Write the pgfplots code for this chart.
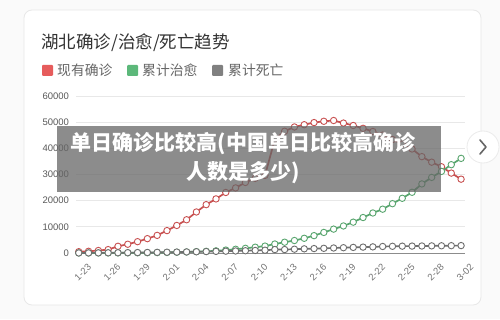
\documentclass[border=0pt]{standalone}
\usepackage{pgfplots}
\pgfplotsset{compat=1.18}
\usepackage{pgfplotstable}
\usepackage{fontspec}
\setmainfont{Liberation Sans}
\newfontfamily\cjk{Noto Sans CJK SC}
\definecolor{cred}{RGB}{200,80,80}
\definecolor{lred}{RGB}{230,92,92}
\definecolor{cgreen}{RGB}{88,165,110}
\definecolor{lgreen}{RGB}{92,184,122}
\definecolor{cgray}{RGB}{110,110,110}
\definecolor{lgray}{RGB}{128,128,128}
\pgfplotstableread{
x cur cured dead
0 494 31 24
1 658 32 39
2 958 42 52
3 1303 44 76
4 2567 47 100
5 3349 80 125
6 4334 90 162
7 5486 116 204
8 6738 166 249
9 8565 215 294
10 10532 295 350
11 12712 396 414
12 15679 520 479
13 18483 633 549
14 20677 817 618
15 23139 1115 699
16 24881 1439 780
17 26965 1795 871
18 28532 2222 974
19 29659 2639 1068
20 43455 3441 1310
21 46537 4131 1318
22 48175 4774 1457
23 49030 5623 1596
24 49847 6639 1696
25 50338 7862 1789
26 50633 9128 1921
27 49665 10337 2029
28 48730 11788 2144
29 47647 13557 2250
30 46439 15299 2346
31 45044 16748 2495
32 43369 18854 2563
33 41660 20912 2615
34 39755 23200 2641
35 36829 26403 2682
36 34715 28895 2727
37 32959 31187 2761
38 30543 33757 2803
39 28216 36167 2834
}\data
\begin{document}
\begin{tikzpicture}[x=1pt,y=1pt]
\path[use as bounding box, fill=black!2] (0,0) rectangle (500,319);
\draw[draw=black!9, fill=white, rounded corners=8pt, line width=0.8pt] (24,14) rectangle (481,309);
\node[anchor=west, inner sep=0, font=\cjk\fontsize{17.5}{20}\selectfont, text=black!80] at (41,276) {湖北确诊/治愈/死亡趋势};
\fill[lred, rounded corners=1pt] (42,243) rectangle (53,254);
\node[anchor=west, inner sep=0, font=\cjk\fontsize{13.8}{16}\selectfont, text=black!60] at (57,248.5) {现有确诊};
\fill[lgreen, rounded corners=1pt] (127,243) rectangle (138,254);
\node[anchor=west, inner sep=0, font=\cjk\fontsize{13.8}{16}\selectfont, text=black!60] at (142,248.5) {累计治愈};
\fill[lgray, rounded corners=1pt] (212,243) rectangle (223,254);
\node[anchor=west, inner sep=0, font=\cjk\fontsize{13.8}{16}\selectfont, text=black!60] at (228,248.5) {累计死亡};
\begin{axis}[
  at={(76pt,66pt)}, anchor=south west,
  scale only axis, width=389pt, height=157pt,
  xmin=-0.28, xmax=39.4, ymin=0, ymax=60000,
  ytick={0,10000,20000,30000,40000,50000,60000},
  scaled y ticks=false,
  /pgf/number format/1000 sep={},
  /pgf/number format/assume math mode=true,
  xtick={0,3,...,39},
  xticklabels={1-23,1-26,1-29,2-01,2-04,2-07,2-10,2-13,2-16,2-19,2-22,2-25,2-28,3-02},
  xticklabel style={xshift=4pt, yshift=-19pt, rotate=45, anchor=center, inner sep=0pt, font=\fontsize{9.5}{11}\selectfont, text=black!55},
  yticklabel style={xshift=-3.5pt, font=\fontsize{9.5}{11}\selectfont, text=black!65},
  ymajorgrids, major grid style={draw=black!9, line width=0.8pt},
  axis lines*=left,
  y axis line style={draw=none},
  x axis line style={draw=black!45, line width=1pt},
  major tick length=0pt,
  clip=false,
]
\addplot[cred, line width=1.7pt, mark=*, mark size=3.2pt, mark options={fill=white, draw=cred, line width=0.9pt, solid}] table[x=x,y=cur]{\data};
\addplot[cgreen, line width=1.7pt, mark=*, mark size=3.2pt, mark options={fill=white, draw=cgreen, line width=0.9pt, solid}] table[x=x,y=cured]{\data};
\addplot[cgray, line width=1.7pt, mark=*, mark size=3.2pt, mark options={fill=white, draw=cgray, line width=0.9pt, solid}] table[x=x,y=dead]{\data};
\end{axis}
\fill[black!60, opacity=0.75] (57,127) rectangle (441,193);
\node[text=white, align=center, font=\cjk\bfseries\fontsize{21}{29}\selectfont] at (243,160.5) {单日确诊比较高(中国单日比较高确诊\\人数是多少)};
\draw[fill=white, draw=black!8, line width=0.8pt] (483,172) circle (16);
\draw[black!60, line width=1.6pt, line cap=round, line join=round] (480,179) -- (486,172) -- (480,165);
\end{tikzpicture}
\end{document}
